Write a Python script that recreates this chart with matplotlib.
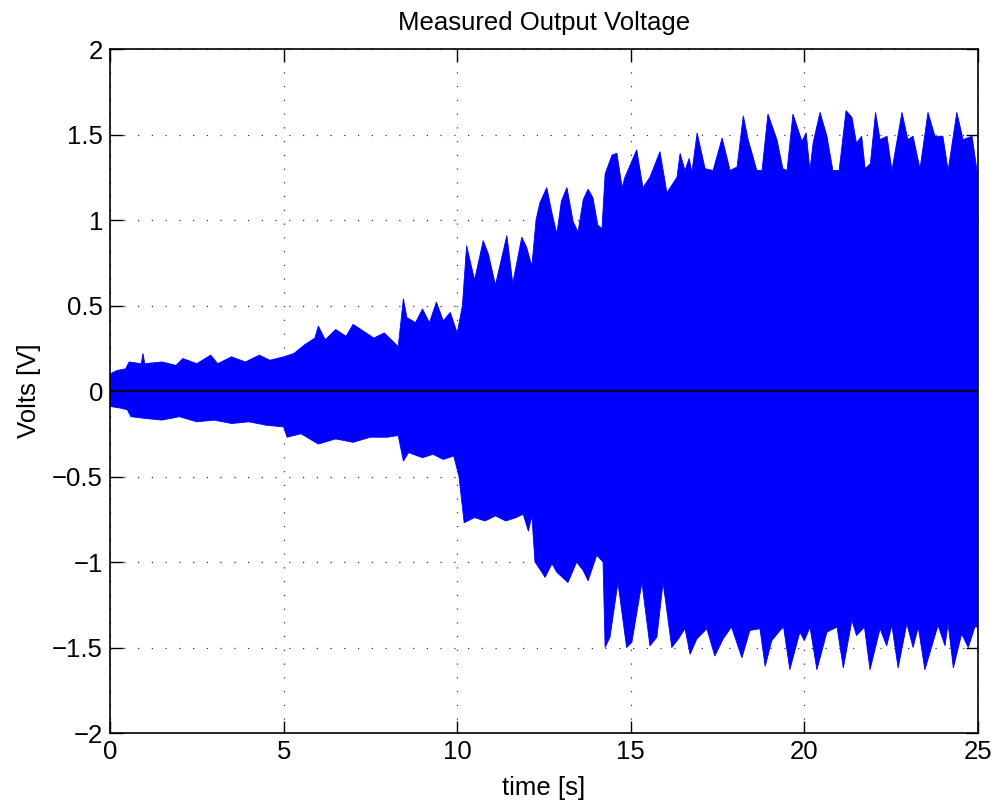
import numpy as np
import matplotlib.pyplot as plt
from matplotlib.ticker import FuncFormatter

plt.rcParams['font.family'] = ['Liberation Sans', 'DejaVu Sans']

# Upper envelope of the measured signal (time [s], volts)
t_upper = [0.0, 0.2, 0.45, 0.55, 0.9, 0.95, 1.0, 1.5, 1.9, 2.1, 2.5, 2.9, 3.1, 3.5, 3.9,
           4.3, 4.6, 5.0, 5.3, 5.6, 5.9, 6.0, 6.2, 6.5, 6.8, 7.0, 7.3, 7.6, 7.9, 8.1,
           8.3, 8.45, 8.55, 8.8, 9.0, 9.2, 9.4, 9.6, 9.8, 10.0, 10.15, 10.27, 10.5, 10.75,
           10.9, 11.1, 11.43, 11.6, 11.86, 12.0, 12.15, 12.27, 12.38, 12.58, 12.73, 12.87,
           13.0, 13.16, 13.34, 13.48, 13.63, 13.77, 13.91, 14.05, 14.17, 14.26, 14.46, 14.6,
           14.75, 14.83, 15.17, 15.35, 15.55, 15.84, 16.04, 16.33, 16.42, 16.56, 16.68,
           16.76, 16.91, 17.14, 17.37, 17.63, 17.86, 18.06, 18.24, 18.38, 18.63, 18.78,
           18.95, 19.21, 19.38, 19.5, 19.67, 19.93, 20.05, 20.16, 20.25, 20.45, 20.65,
           20.82, 21.0, 21.2, 21.37, 21.5, 21.65, 21.75, 21.9, 22.05, 22.18, 22.38, 22.52,
           22.81, 22.98, 23.13, 23.33, 23.56, 23.76, 23.99, 24.14, 24.39, 24.57, 24.83,
           24.97, 25.0]
v_upper = [0.10, 0.12, 0.13, 0.17, 0.16, 0.22, 0.16, 0.17, 0.15, 0.19, 0.16, 0.21, 0.16, 0.20, 0.17,
           0.21, 0.18, 0.20, 0.22, 0.27, 0.31, 0.38, 0.30, 0.36, 0.32, 0.39, 0.35, 0.31, 0.34, 0.30,
           0.26, 0.54, 0.43, 0.40, 0.48, 0.40, 0.52, 0.41, 0.46, 0.34, 0.50, 0.85, 0.65, 0.88,
           0.80, 0.62, 0.91, 0.63, 0.90, 0.84, 0.73, 1.00, 1.10, 1.19, 1.04, 0.92,
           1.11, 1.19, 0.99, 0.93, 1.12, 1.18, 1.13, 0.97, 0.95, 1.27, 1.38, 1.39,
           1.19, 1.25, 1.41, 1.19, 1.25, 1.40, 1.16, 1.25, 1.39, 1.29, 1.36,
           1.28, 1.51, 1.30, 1.29, 1.48, 1.29, 1.31, 1.61, 1.47, 1.29, 1.29,
           1.62, 1.47, 1.30, 1.29, 1.62, 1.46, 1.51, 1.29, 1.45, 1.63, 1.49,
           1.29, 1.29, 1.64, 1.60, 1.45, 1.49, 1.30, 1.33, 1.63, 1.47, 1.49, 1.29,
           1.63, 1.47, 1.49, 1.30, 1.63, 1.49, 1.49, 1.29, 1.63, 1.47, 1.49,
           1.29, 1.29]

# Lower envelope of the measured signal
t_lower = [0.0, 0.3, 0.5, 0.6, 1.0, 1.5, 2.0, 2.5, 3.0, 3.5, 4.0, 4.5, 5.0, 5.1, 5.5, 6.0,
           6.5, 7.0, 7.5, 8.0, 8.3, 8.45, 8.6, 9.0, 9.3, 9.6, 9.9, 10.05, 10.2, 10.5, 10.8,
           11.1, 11.4, 11.7, 11.9, 12.05, 12.15, 12.24, 12.44, 12.53, 12.73, 12.87, 13.19,
           13.44, 13.63, 13.77, 14.02, 14.2, 14.26, 14.4, 14.63, 14.78, 14.88, 15.03, 15.32,
           15.55, 15.75, 15.93, 16.18, 16.37, 16.56, 16.71, 16.9, 17.19, 17.42, 17.66, 17.9,
           18.2, 18.43, 18.72, 18.87, 19.06, 19.3, 19.4, 19.58, 19.87, 20.0, 20.16, 20.36,
           20.65, 20.94, 21.12, 21.37, 21.5, 21.73, 21.89, 22.18, 22.37, 22.52, 22.7, 22.95,
           23.13, 23.28, 23.47, 23.85, 24.05, 24.14, 24.29, 24.53, 24.72, 24.91, 25.0]
v_lower = [-0.09, -0.10, -0.11, -0.15, -0.16, -0.17, -0.15, -0.18, -0.17, -0.19, -0.18, -0.20, -0.21, -0.27, -0.25, -0.31,
           -0.28, -0.30, -0.27, -0.27, -0.26, -0.41, -0.36, -0.39, -0.37, -0.40, -0.38, -0.50, -0.77, -0.74, -0.76,
           -0.73, -0.76, -0.74, -0.72, -0.82, -0.73, -1.00, -1.06, -1.09, -1.01, -1.06, -1.12,
           -1.00, -1.05, -1.11, -0.96, -1.00, -1.50, -1.44, -1.12, -1.35, -1.50, -1.47, -1.12,
           -1.49, -1.44, -1.12, -1.50, -1.45, -1.39, -1.54, -1.45, -1.39, -1.55, -1.45, -1.38,
           -1.56, -1.40, -1.39, -1.61, -1.46, -1.40, -1.38, -1.63, -1.41, -1.46, -1.38, -1.63,
           -1.41, -1.38, -1.62, -1.34, -1.43, -1.38, -1.63, -1.39, -1.49, -1.37, -1.62, -1.36,
           -1.50, -1.38, -1.63, -1.37, -1.49, -1.36, -1.62, -1.42, -1.50, -1.38, -1.38]

x_ticks = [0, 5, 10, 15, 20, 25]
y_ticks = [-2, -1.5, -1, -0.5, 0, 0.5, 1, 1.5, 2]

fig = plt.figure(figsize=(9.94, 8.05), dpi=100)
ax = fig.add_axes([0.1107, 0.0894, 0.8732, 0.8497])

# signal band as a polygon: upper envelope forward, lower envelope back
poly_t = np.concatenate([t_upper, t_lower[::-1]])
poly_v = np.concatenate([v_upper, v_lower[::-1]])
ax.fill(poly_t, poly_v, color='#0000ff', linewidth=0.6, edgecolor='#0000ff', zorder=2)
ax.axhline(0, color='black', linewidth=1.3, zorder=3)

ax.set_xlim(0, 25)
ax.set_ylim(-2, 2)
ax.set_xticks(x_ticks)
ax.set_yticks(y_ticks)
fmt = FuncFormatter(lambda v, p: f"{v:g}".replace('-', '\u2212'))
ax.xaxis.set_major_formatter(fmt)
ax.yaxis.set_major_formatter(fmt)
ax.tick_params(direction='in', length=9, width=1, top=True, right=True, labelsize=18.5, pad=5)
ax.grid(True, linestyle=(0, (1, 10)), color='black', linewidth=0.9, alpha=0.8, zorder=1)
ax.set_axisbelow(True)
for s in ax.spines.values():
    s.set_linewidth(1.2)

ax.set_title('Measured Output Voltage', fontsize=18.5, pad=14)
ax.set_xlabel('time [s]', fontsize=18.5, labelpad=9)
ax.set_ylabel('Volts [V]', fontsize=18.5, labelpad=8)

fig.savefig('out.png', dpi=100)
